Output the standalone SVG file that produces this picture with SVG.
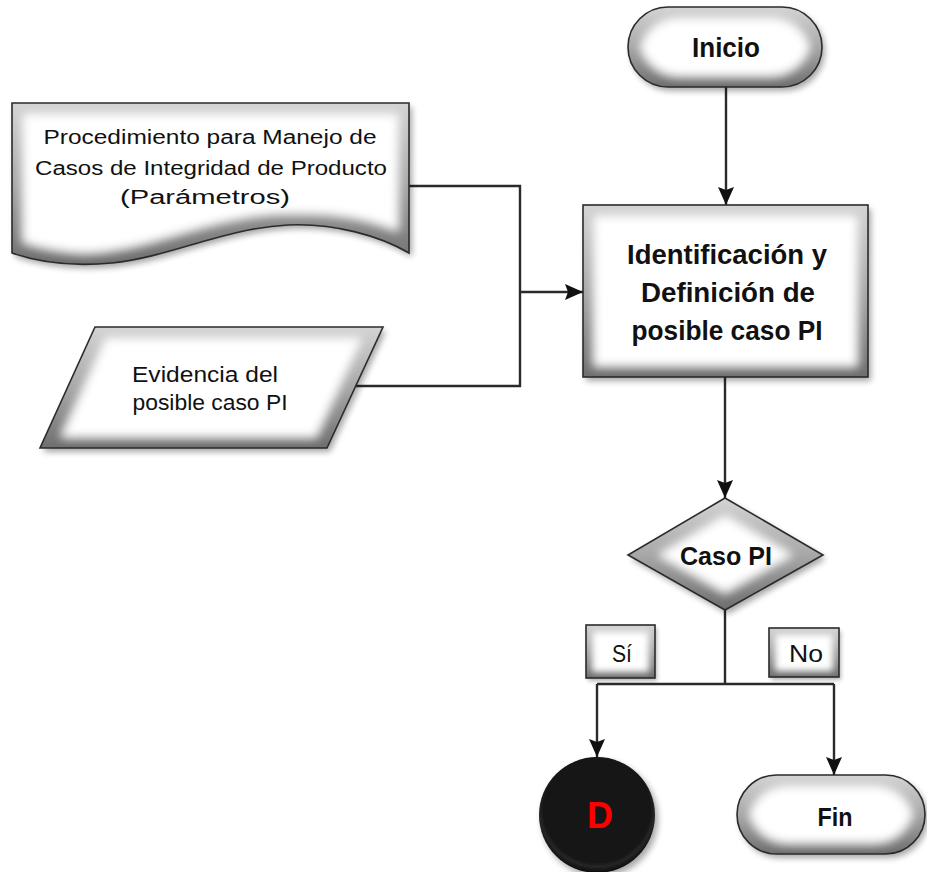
<svg xmlns="http://www.w3.org/2000/svg" width="927" height="872" viewBox="0 0 927 872">
  <defs>
    <style>
      .edge { fill: url(#grayEdge); filter: url(#bevel); }
      .outline { fill: none; stroke: #2b2b2b; stroke-width: 1.6; }
      .conn { fill: none; stroke: #2a2a2a; stroke-width: 2.4; }
      .txt { font-family: "Liberation Sans", Arial, sans-serif; fill: #111; text-anchor: middle; }
      .bold { font-weight: bold; }
    </style>
    <linearGradient id="grayEdge" x1="0" y1="0" x2="0" y2="1">
      <stop offset="0" stop-color="#d4d4d4"/>
      <stop offset="0.5" stop-color="#a8a8a8"/>
      <stop offset="1" stop-color="#6e6e6e"/>
    </linearGradient>
    <radialGradient id="ballFill" cx="0.5" cy="0.45" r="0.55">
      <stop offset="0" stop-color="#161616"/>
      <stop offset="0.82" stop-color="#121212"/>
      <stop offset="0.9" stop-color="#262626"/>
      <stop offset="1" stop-color="#0a0a0a"/>
    </radialGradient>
    <!-- soft bevel: light interior fading to the gray rim, plus drop shadow -->
    <filter id="bevel" x="-10%" y="-10%" width="125%" height="130%">
      <feMorphology in="SourceAlpha" operator="erode" radius="11" result="er"/>
      <feGaussianBlur in="er" stdDeviation="5" result="bl"/>
      <feFlood flood-color="#ffffff" result="wh"/>
      <feComposite in="wh" in2="bl" operator="in" result="hi"/>
      <feMerge result="body"><feMergeNode in="SourceGraphic"/><feMergeNode in="hi"/></feMerge>
      <feGaussianBlur in="SourceAlpha" stdDeviation="3" result="sb"/>
      <feOffset in="sb" dx="3" dy="4" result="so"/>
      <feComponentTransfer in="so" result="sh"><feFuncA type="linear" slope="0.35"/></feComponentTransfer>
      <feMerge><feMergeNode in="sh"/><feMergeNode in="body"/></feMerge>
    </filter>
    <filter id="smallBevel" x="-10%" y="-10%" width="130%" height="140%">
      <feMorphology in="SourceAlpha" operator="erode" radius="7" result="er"/>
      <feGaussianBlur in="er" stdDeviation="3" result="bl"/>
      <feFlood flood-color="#ffffff" result="wh"/>
      <feComposite in="wh" in2="bl" operator="in" result="hi"/>
      <feMerge result="body"><feMergeNode in="SourceGraphic"/><feMergeNode in="hi"/></feMerge>
      <feGaussianBlur in="SourceAlpha" stdDeviation="2" result="sb"/>
      <feOffset in="sb" dx="2" dy="3" result="so"/>
      <feComponentTransfer in="so" result="sh"><feFuncA type="linear" slope="0.3"/></feComponentTransfer>
      <feMerge><feMergeNode in="sh"/><feMergeNode in="body"/></feMerge>
    </filter>
    <filter id="shadow" x="-20%" y="-20%" width="150%" height="150%">
      <feDropShadow dx="3" dy="4" stdDeviation="3" flood-opacity="0.35"/>
    </filter>
    <marker id="arrow" viewBox="0 0 18 18" markerWidth="18" markerHeight="18" refX="18" refY="9" orient="auto" markerUnits="userSpaceOnUse">
      <path d="M0,1 L18,9 L0,17 L3,9 Z" fill="#111"/>
    </marker>
  </defs>

  <!-- connectors -->
  <g id="connectors">
    <path class="conn" d="M726,87 V205" marker-end="url(#arrow)"/>
    <path class="conn" d="M409,186 H520 V386 H356"/>
    <path class="conn" d="M520,292 H583" stroke-width="3.5" marker-end="url(#arrow)"/>
    <path class="conn" d="M725,377 V498" marker-end="url(#arrow)"/>
    <path class="conn" d="M725,610 V684" stroke-width="3"/>
    <path class="conn" d="M597,684 H834"/>
    <path class="conn" d="M597,684 V757" marker-end="url(#arrow)"/>
    <path class="conn" d="M834,684 V775" marker-end="url(#arrow)"/>
  </g>

  <!-- start terminator -->
  <g id="inicio">
    <rect class="edge" x="628" y="7" width="194" height="80" rx="40"/>
    <rect class="outline" x="628" y="7" width="194" height="80" rx="40"/>
    <text class="txt bold" x="726" y="57" font-size="27" textLength="68" lengthAdjust="spacingAndGlyphs">Inicio</text>
  </g>

  <!-- document input -->
  <g id="procedimiento">
    <path class="edge" d="M12,103 H409 V253 C380,236 335,223 288,225 C225,228 170,257 112,263 C70,267 35,261 12,253 Z"/>
    <path class="outline" d="M12,103 H409 V253 C380,236 335,223 288,225 C225,228 170,257 112,263 C70,267 35,261 12,253 Z"/>
    <text class="txt" x="210" y="144" font-size="20" textLength="333" lengthAdjust="spacingAndGlyphs">Procedimiento para Manejo de</text>
    <text class="txt" x="211" y="175" font-size="20" textLength="352" lengthAdjust="spacingAndGlyphs">Casos de Integridad de Producto</text>
    <text class="txt" x="205" y="204" font-size="20" textLength="170" lengthAdjust="spacingAndGlyphs">(Parámetros)</text>
  </g>

  <!-- data input -->
  <g id="evidencia">
    <path class="edge" d="M95,327 H383 L327,448 H40 Z"/>
    <path class="outline" d="M95,327 H383 L327,448 H40 Z"/>
    <text class="txt" x="205" y="382" font-size="22" textLength="146" lengthAdjust="spacingAndGlyphs">Evidencia del</text>
    <text class="txt" x="210" y="410" font-size="22" textLength="155" lengthAdjust="spacingAndGlyphs">posible caso PI</text>
  </g>

  <!-- process -->
  <g id="identificacion">
    <rect class="edge" x="583" y="205" width="285" height="172"/>
    <rect class="outline" x="583" y="205" width="285" height="172"/>
    <text class="txt bold" x="727" y="264" font-size="27.5" textLength="200" lengthAdjust="spacingAndGlyphs">Identificación y</text>
    <text class="txt bold" x="728" y="302" font-size="27.5" textLength="174" lengthAdjust="spacingAndGlyphs">Definición de</text>
    <text class="txt bold" x="727" y="340" font-size="27.5" textLength="191" lengthAdjust="spacingAndGlyphs">posible caso PI</text>
  </g>

  <!-- decision -->
  <g id="caso-pi">
    <path class="edge" d="M725,498 L823,555 L725,610 L628,555 Z"/>
    <path class="outline" d="M725,498 L823,555 L725,610 L628,555 Z"/>
    <text class="txt bold" x="726" y="565" font-size="26" textLength="92" lengthAdjust="spacingAndGlyphs">Caso PI</text>
  </g>

  <!-- branch labels -->
  <g id="label-si">
    <rect x="586" y="625" width="69" height="53" fill="url(#grayEdge)" filter="url(#smallBevel)"/>
    <rect class="outline" x="586" y="625" width="69" height="53"/>
    <text class="txt" x="622" y="662" font-size="23" textLength="20" lengthAdjust="spacingAndGlyphs">Sí</text>
  </g>
  <g id="label-no">
    <rect x="769" y="628" width="70" height="49" fill="url(#grayEdge)" filter="url(#smallBevel)"/>
    <rect class="outline" x="769" y="628" width="70" height="49"/>
    <text class="txt" x="806" y="662" font-size="23" textLength="34" lengthAdjust="spacingAndGlyphs">No</text>
  </g>

  <!-- off-page connector -->
  <g id="conector-d">
    <circle cx="597" cy="815" r="58" fill="url(#ballFill)" filter="url(#shadow)"/>
    <text x="600" y="828" font-family="Liberation Sans, Arial, sans-serif" font-weight="bold" font-size="36" fill="#ff0000" text-anchor="middle">D</text>
  </g>

  <!-- end terminator -->
  <g id="fin">
    <rect class="edge" x="737" y="775" width="188" height="79" rx="39.5"/>
    <rect class="outline" x="737" y="775" width="188" height="79" rx="39.5"/>
    <text class="txt bold" x="835" y="826" font-size="26" textLength="35" lengthAdjust="spacingAndGlyphs">Fin</text>
  </g>
</svg>
